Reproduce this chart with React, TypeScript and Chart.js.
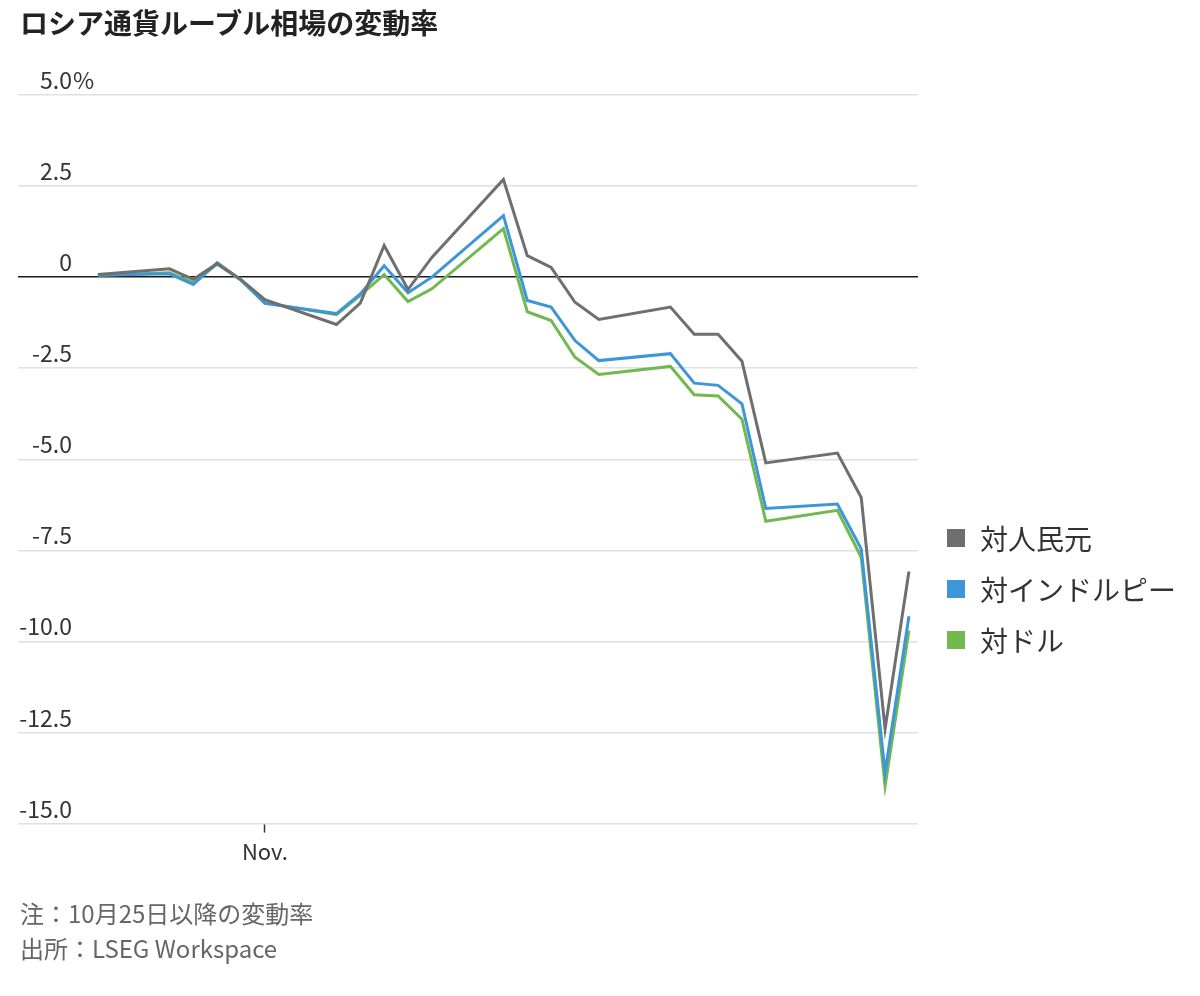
import { useEffect, useRef } from 'react'
import { Chart, registerables } from 'chart.js'
import type { Plugin } from 'chart.js'

Chart.register(...registerables)

const FONT = '"Noto Sans CJK JP", "Noto Sans", sans-serif'

// 営業日（10/25 起点）
const dates = [
  '2024-10-25', '2024-10-28', '2024-10-29', '2024-10-30', '2024-10-31',
  '2024-11-01', '2024-11-04', '2024-11-05', '2024-11-06', '2024-11-07',
  '2024-11-08', '2024-11-11', '2024-11-12', '2024-11-13', '2024-11-14',
  '2024-11-15', '2024-11-18', '2024-11-19', '2024-11-20', '2024-11-21',
  '2024-11-22', '2024-11-25', '2024-11-26', '2024-11-27', '2024-11-28',
]

const vsCny = [
  0.07, 0.23, -0.06, 0.37, -0.07, -0.62, -1.3, -0.71, 0.87, -0.34,
  0.54, 2.68, 0.59, 0.27, -0.69, -1.16, -0.82, -1.57, -1.57, -2.31,
  -5.1, -4.83, -6.05, -12.4, -8.08,
]
const vsInr = [
  0.05, 0.09, -0.2, 0.4, -0.08, -0.72, -1.0, -0.46, 0.31, -0.43,
  0.0, 1.69, -0.64, -0.82, -1.74, -2.29, -2.1, -2.91, -2.97, -3.48,
  -6.35, -6.23, -7.46, -13.6, -9.31,
]
const vsUsd = [
  0.05, 0.12, -0.15, 0.36, -0.08, -0.7, -1.03, -0.5, 0.07, -0.67,
  -0.32, 1.33, -0.95, -1.19, -2.2, -2.67, -2.45, -3.23, -3.26, -3.9,
  -6.7, -6.4, -7.69, -13.97, -9.7,
]

const seriesNames = ['対人民元', '対インドルピー', '対ドル']
const seriesColors = ['#6f6f6f', '#3d96d9', '#71b84f']

const yTicks = [5, 2.5, 0, -2.5, -5, -7.5, -10, -12.5, -15]
const yTickLabels = ['5.0%', '2.5', '0', '-2.5', '-5.0', '-7.5', '-10.0', '-12.5', '-15.0']
const xTickDate = '2024-11-01'
const xTickLabel = 'Nov.'

const title = 'ロシア通貨ルーブル相場の変動率'
const notes = ['注：10月25日以降の変動率', '出所：LSEG Workspace']

const dayNum = (d: string) => (Date.parse(d) - Date.parse(dates[0])) / 86400000

// y 軸ラベルはグリッド線の上に描く（% だけ右にはみ出す）
const yLabelPlugin: Plugin<'line'> = {
  id: 'yLabels',
  afterDraw(chart) {
    const { ctx } = chart
    const y = chart.scales.y
    ctx.save()
    ctx.font = `23px ${FONT}`
    ctx.fillStyle = '#333'
    ctx.textBaseline = 'alphabetic'
    yTicks.forEach((v, i) => {
      const py = y.getPixelForValue(v) - 6
      const lbl = yTickLabels[i]
      const hasPct = lbl.endsWith('%')
      const num = hasPct ? lbl.slice(0, -1) : lbl
      ctx.textAlign = 'right'
      ctx.fillText(num, 72, py)
      if (hasPct) { ctx.textAlign = 'left'; ctx.fillText('%', 73, py) }
    })
    ctx.restore()
  },
}

export default function App() {
  const ref = useRef<HTMLCanvasElement>(null)

  useEffect(() => {
    if (!ref.current) return
    const data = [vsCny, vsInr, vsUsd]
    const chart = new Chart(ref.current, {
      type: 'line',
      data: {
        datasets: data.map((vals, k) => ({
          label: seriesNames[k],
          data: vals.map((v, i) => ({ x: dayNum(dates[i]), y: v })),
          borderColor: seriesColors[k],
          borderWidth: 3,
          pointRadius: 0,
          tension: 0,
          borderJoinStyle: 'miter' as const,
        })),
      },
      options: {
        animation: false,
        responsive: true,
        maintainAspectRatio: false,
        layout: { padding: { left: 18, right: 282, top: 95, bottom: 125 } },
        plugins: { legend: { display: false }, tooltip: { enabled: false } },
        scales: {
          x: {
            type: 'linear',
            min: -3.35,
            max: 34.38,
            afterBuildTicks: axis => { axis.ticks = [{ value: dayNum(xTickDate) }] },
            ticks: {
              callback: () => xTickLabel,
              font: { size: 22, family: FONT },
              color: '#333',
              padding: 6,
              maxRotation: 0,
            },
            grid: { drawOnChartArea: false, drawTicks: true, tickLength: 9, tickColor: '#333', tickWidth: 1.5 },
            border: { display: false },
          },
          y: {
            min: -15,
            max: 5,
            afterBuildTicks: axis => { axis.ticks = yTicks.map(v => ({ value: v })) },
            ticks: { display: false },
            grid: {
              drawTicks: false,
              color: c => (c.tick && c.tick.value === 0 ? '#1a1a1a' : '#e0e0e0'),
              lineWidth: 1.5,
            },
            border: { display: false },
          },
        },
      },
      plugins: [yLabelPlugin],
    })
    return () => chart.destroy()
  }, [])

  return (
    <div style={{ position: 'absolute', left: 0, top: 0, width: 1200, height: 996, overflow: 'hidden', background: '#fff', fontFamily: FONT }}>
      <div style={{ position: 'absolute', left: 0, top: 0, width: 1200, height: 996 }}>
        <canvas ref={ref} role="img" aria-label={title} />
      </div>
      <div style={{ position: 'absolute', left: 20, top: 4, fontSize: 28, lineHeight: '36px', fontWeight: 700, color: '#222', whiteSpace: 'nowrap' }}>
        {title}
      </div>
      {seriesNames.map((n, i) => (
        <div key={n} style={{ position: 'absolute', left: 947, top: 518 + i * 51, height: 40, display: 'flex', alignItems: 'center', whiteSpace: 'nowrap' }}>
          <span style={{ width: 18, height: 18, background: seriesColors[i], display: 'inline-block', marginRight: 15 }} />
          <span style={{ fontSize: 28, color: '#333' }}>{n}</span>
        </div>
      ))}
      {notes.map((t, i) => (
        <div key={t} style={{ position: 'absolute', left: 20, top: 896 + i * 35, fontSize: 24, lineHeight: '34px', color: '#666', whiteSpace: 'nowrap' }}>
          {t}
        </div>
      ))}
    </div>
  )
}
